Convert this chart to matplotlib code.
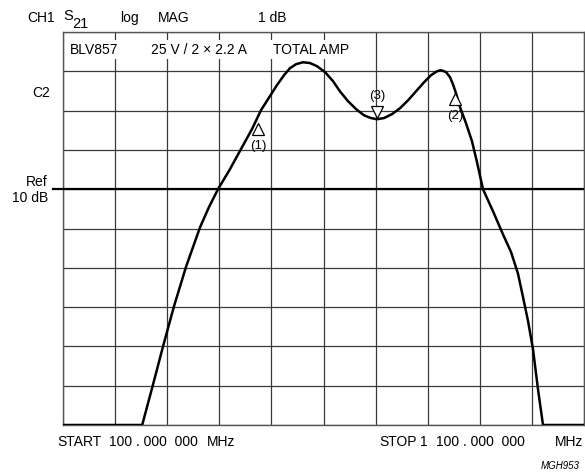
import matplotlib.pyplot as plt
from matplotlib.ticker import MultipleLocator

plt.rcParams['font.family'] = ['Liberation Sans', 'DejaVu Sans']

# S21 trace of the total amplifier, 100 MHz .. 1100 MHz, 1 dB/div, ref 10 dB
freq_mhz = [100, 252, 273, 292, 313, 336, 363, 380, 397.5, 420.5, 441.6,
            462.8, 480, 497.3, 510.8, 524.2, 535.7, 547.2, 560.7, 574.1,
            587.5, 602.9, 618.2, 631.6, 647, 662.4, 677.7, 691.2, 702.7,
            716.1, 731.5, 746.8, 762.2, 777.5, 792.9, 806.3, 817.8, 825.5,
            835.1, 842.8, 848.5, 854.3, 862, 873.5, 885, 894.6, 906.1,
            925.3, 944.5, 960, 973.3, 983, 992.5, 1002.1, 1011.7,
            1021.3, 1100]
gain_db = [4.0, 4.0, 5.04, 6.0, 7.02, 8.02, 9.03, 9.54, 10.0, 10.51, 11.02,
           11.53, 12.01, 12.37, 12.65, 12.9, 13.08, 13.18, 13.23, 13.21,
           13.13, 12.98, 12.75, 12.49, 12.24, 12.04, 11.88, 11.81, 11.78,
           11.81, 11.91, 12.06, 12.26, 12.49, 12.72, 12.9, 13.0, 13.03,
           12.98, 12.85, 12.67, 12.44, 12.09, 11.68, 11.22, 10.69, 10.0,
           9.44, 8.85, 8.4, 7.85, 7.25, 6.65, 5.93, 4.91, 4.0, 4.0]

# stimulus markers: frequency, level, direction, label
mark_freq = [474, 852, 703]
mark_db = [11.53, 12.29, 11.96]
mark_dir = ['^', '^', 'v']
mark_text = ['(1)', '(2)', '(3)']

ref_db = 10
start_mhz, stop_mhz = 100, 1100

W, H = 585, 475
fig = plt.figure(figsize=(W / 100, H / 100), dpi=100)
ax = fig.add_axes([63 / W, 50 / H, 521 / W, 393 / H])
ax.set_xlim(start_mhz, stop_mhz)
ax.set_ylim(ref_db - 6, ref_db + 4)
ax.xaxis.set_major_locator(MultipleLocator(100))
ax.yaxis.set_major_locator(MultipleLocator(1))
ax.grid(True, color='#3a3a3a', lw=0.9)
ax.tick_params(length=0, labelbottom=False, labelleft=False)
for s in ax.spines.values():
    s.set_color('#555555')
    s.set_linewidth(1.0)

ax.axhline(ref_db, color='black', lw=1.6, zorder=3)
# reference tick sticking out to the left of the graticule
ax.plot([start_mhz - 19, start_mhz], [ref_db, ref_db], color='black',
        lw=1.6, clip_on=False)

ax.plot(freq_mhz, gain_db, color='black', lw=1.8, zorder=4,
        solid_joinstyle='round')

for f, g, m, t in zip(mark_freq, mark_db, mark_dir, mark_text):
    ax.plot(f, g, marker=m, ms=9, mfc='white', mec='black', mew=0.9, zorder=5)
    dy = -0.44 if m == '^' else 0.41
    ax.text(f, g + dy, t, ha='center', va='center', fontsize=9.5, zorder=6)


def ftext(x, y, s, **kw):
    kw.setdefault('fontsize', 10)
    kw.setdefault('va', 'center')
    fig.text(x / W, 1 - y / H, s, **kw)


ftext(27, 18, 'CH1')
ftext(63, 16, 'S', fontsize=10.5)
ftext(72, 24, '21', fontsize=10.5)
ftext(120, 18, 'log')
ftext(158, 18, 'MAG')
ftext(258, 18, '1 dB')

box = dict(facecolor='white', edgecolor='none', pad=2)
ax.text(0.014, 0.955, 'BLV857', transform=ax.transAxes, va='center',
        fontsize=10, bbox=box, zorder=7)
ax.text(0.168, 0.955, u'25 V / 2 \u00d7 2.2 A', transform=ax.transAxes,
        va='center', fontsize=10, bbox=box, zorder=7)
ax.text(0.403, 0.955, 'TOTAL AMP', transform=ax.transAxes, va='center',
        fontsize=10, bbox=box, zorder=7)

ftext(32, 93, 'C2')
ftext(48, 182, 'Ref', ha='right')
ftext(48, 198, '10 dB', ha='right')

ftext(57, 442, 'START')
ftext(109, 442, '100 . 000  000')
ftext(207, 442, 'MHz')
ftext(379, 442, 'STOP')
ftext(420, 442, '1')
ftext(436, 442, '100 . 000  000')
ftext(555, 442, 'MHz')
ftext(580, 466, 'MGH953', ha='right', fontsize=7, style='italic')

fig.savefig('out.png', dpi=100)
